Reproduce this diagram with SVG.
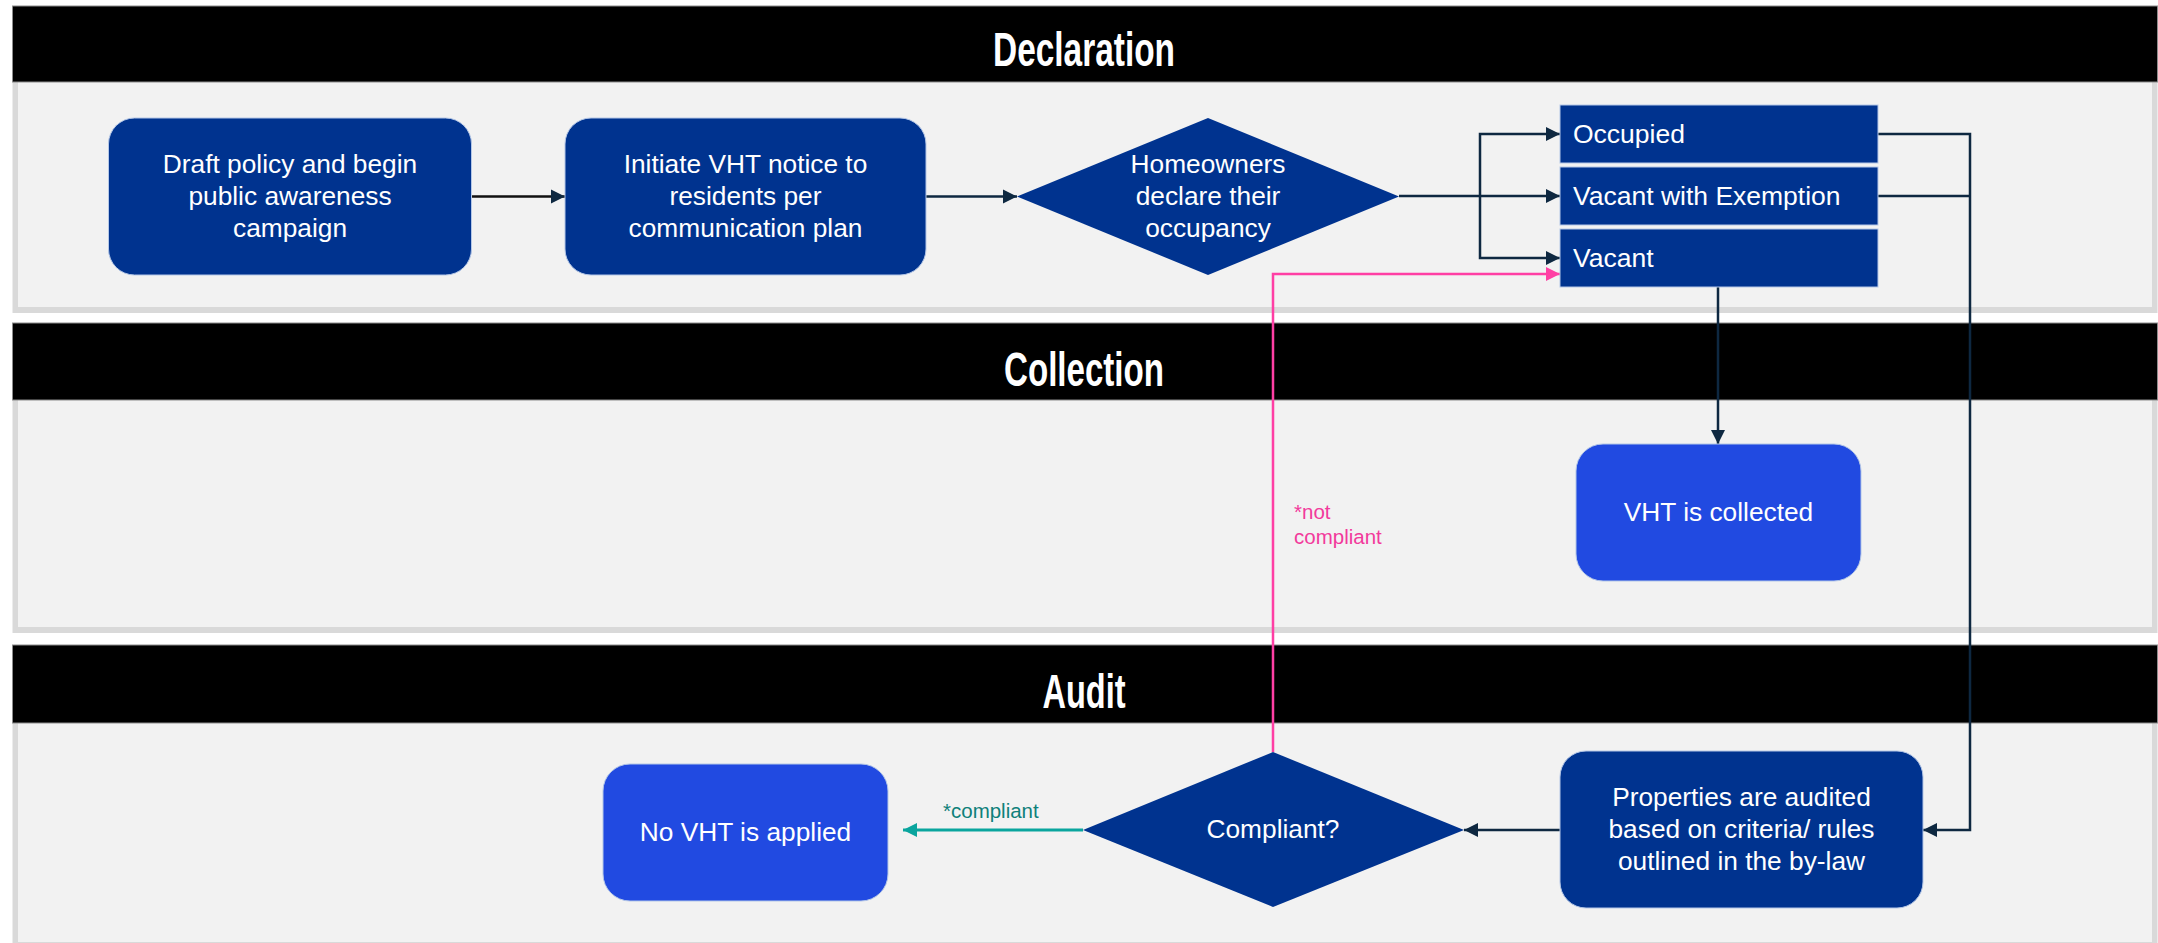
<svg xmlns="http://www.w3.org/2000/svg" width="2158" height="943" viewBox="0 0 2158 943">
<style>
.lane-shadow{fill:#d9d9d9}
.lane-body{fill:#f2f2f2}
.hdr{fill:#000;stroke:#8c8c8c;stroke-width:1}
.hdr-t{font-family:"Liberation Sans Narrow","Liberation Sans",Arial,sans-serif;font-weight:bold;font-size:49px;fill:#fff;text-anchor:middle}
.proc{fill:#00338f;stroke:#b4c7e7;stroke-width:1}
.res{fill:#214ae1;stroke:#b4c7e7;stroke-width:1}
.t{font-family:"Liberation Sans",Arial,sans-serif;font-size:26.3px;fill:#fff;text-anchor:middle}
.tl{font-family:"Liberation Sans",Arial,sans-serif;font-size:26.5px;fill:#fff}
.c{fill:none;stroke:#0e2841;stroke-width:2.5}
.cp{fill:none;stroke:#ff3fa4;stroke-width:2.5}
.ct{fill:none;stroke:#0aa59e;stroke-width:3}
.lbl{font-family:"Liberation Sans",Arial,sans-serif;font-size:20.5px}
</style>
<defs>
<marker id="ah" markerUnits="userSpaceOnUse" markerWidth="16" markerHeight="16" viewBox="0 0 16 16" refX="15" refY="8" orient="auto"><path d="M1,1 L15,8 L1,15 z" fill="#0e2841"/></marker>
<marker id="ahp" markerUnits="userSpaceOnUse" markerWidth="16" markerHeight="16" viewBox="0 0 16 16" refX="15" refY="8" orient="auto"><path d="M1,1 L15,8 L1,15 z" fill="#ff3fa4"/></marker>
<marker id="aht" markerUnits="userSpaceOnUse" markerWidth="16" markerHeight="16" viewBox="0 0 16 16" refX="15" refY="8" orient="auto"><path d="M1,1 L15,8 L1,15 z" fill="#0aa59e"/></marker>
</defs>
<rect width="2158" height="943" fill="#fff"/>

<g id="lane-declaration">
<rect class="lane-shadow" x="12.5" y="82" width="2145" height="231"/>
<rect class="lane-body" x="18" y="82" width="2134" height="225"/>
<rect class="hdr" x="12.5" y="6" width="2145" height="76"/>
<text class="hdr-t" x="1084" y="66" textLength="182" lengthAdjust="spacingAndGlyphs">Declaration</text>
</g>
<g id="lane-collection">
<rect class="lane-shadow" x="12.5" y="400" width="2145" height="233"/>
<rect class="lane-body" x="18" y="400" width="2134" height="227"/>
<rect class="hdr" x="12.5" y="323" width="2145" height="77"/>
<text class="hdr-t" x="1084" y="386" textLength="160" lengthAdjust="spacingAndGlyphs">Collection</text>
</g>
<g id="lane-audit">
<rect class="lane-shadow" x="12.5" y="723" width="2145" height="225"/>
<rect class="lane-body" x="18" y="723" width="2134" height="219"/>
<rect class="hdr" x="12.5" y="645" width="2145" height="78"/>
<text class="hdr-t" x="1084" y="708" textLength="83" lengthAdjust="spacingAndGlyphs">Audit</text>
</g>

<g id="connectors">
<path class="c" d="M471,196.5 H565" marker-end="url(#ah)" style="stroke:#111"/>
<path class="c" d="M926,196.5 H1017" marker-end="url(#ah)"/>
<path class="c" d="M1399,196 H1560" marker-end="url(#ah)"/>
<path class="c" d="M1480,196 V134 H1560" marker-end="url(#ah)"/>
<path class="c" d="M1480,196 V258 H1560" marker-end="url(#ah)"/>
<path class="c" d="M1718,287 V444" marker-end="url(#ah)"/>
<path class="c" d="M1878,134 H1970 V830 H1923" marker-end="url(#ah)"/>
<path class="c" d="M1878,196 H1970"/>
<path class="c" d="M1560,830 H1464" marker-end="url(#ah)"/>
<path class="cp" d="M1273,752 V274 H1560" marker-end="url(#ahp)"/>
<path class="ct" d="M1083,830 H903" marker-end="url(#aht)"/>
<text class="lbl" x="1294" y="519" fill="#f23a9c">*not</text>
<text class="lbl" x="1294" y="544" fill="#f23a9c">compliant</text>
<text class="lbl" x="943" y="818" fill="#0e807a">*compliant</text>
</g>

<g id="node-draft">
<rect class="proc" x="108.5" y="118" width="363" height="157" rx="26"/>
<text class="t" x="290" y="173">Draft policy and begin</text>
<text class="t" x="290" y="205">public awareness</text>
<text class="t" x="290" y="237">campaign</text>
</g>
<g id="node-notice">
<rect class="proc" x="565" y="118" width="361" height="157" rx="26"/>
<text class="t" x="745.5" y="173">Initiate VHT notice to</text>
<text class="t" x="745.5" y="205">residents per</text>
<text class="t" x="745.5" y="237">communication plan</text>
</g>
<g id="node-declare">
<path class="proc" style="stroke:none" d="M1208,118 L1399,196.5 L1208,275 L1017,196.5 z"/>
<text class="t" x="1208" y="173">Homeowners</text>
<text class="t" x="1208" y="205">declare their</text>
<text class="t" x="1208" y="237">occupancy</text>
</g>
<g id="node-occupied">
<rect class="proc" x="1560" y="105" width="318" height="58"/>
<text class="tl" x="1573" y="143">Occupied</text>
</g>
<g id="node-exemption">
<rect class="proc" x="1560" y="167" width="318" height="58"/>
<text class="tl" x="1573" y="205">Vacant with Exemption</text>
</g>
<g id="node-vacant">
<rect class="proc" x="1560" y="229" width="318" height="58"/>
<text class="tl" x="1573" y="267">Vacant</text>
</g>
<g id="node-collected">
<rect class="res" x="1576" y="444" width="285" height="137" rx="27"/>
<text class="t" x="1718.5" y="521">VHT is collected</text>
</g>
<g id="node-audited">
<rect class="proc" x="1560" y="751" width="363" height="157" rx="26"/>
<text class="t" x="1741.5" y="806">Properties are audited</text>
<text class="t" x="1741.5" y="838">based on criteria/ rules</text>
<text class="t" x="1741.5" y="870">outlined in the by-law</text>
</g>
<g id="node-compliant">
<path class="proc" style="stroke:none" d="M1273,752 L1464,830 L1273,907 L1083,830 z"/>
<text class="t" x="1273" y="838">Compliant?</text>
</g>
<g id="node-novht">
<rect class="res" x="603" y="764" width="285" height="137" rx="27"/>
<text class="t" x="745.5" y="841">No VHT is applied</text>
</g>
</svg>
